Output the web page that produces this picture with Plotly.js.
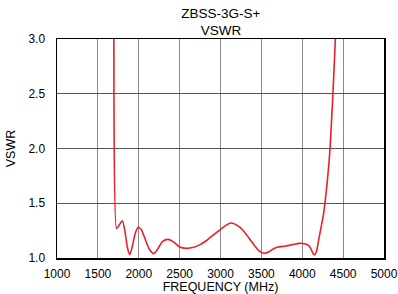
<!DOCTYPE html>
<html><head><meta charset="utf-8">
<script src="https://cdn.plot.ly/plotly-3.0.1.min.js"></script>
<style>html,body{margin:0;padding:0;background:#fff}#c{width:398px;height:294px}</style>
</head><body><div id="c"></div>
<script>
const freq = [1688,1695,1728,1760,1800,1830,1860,1890,1920,1955,1992,2030,2080,2130,2183,2230,2290,2357,2420,2500,2582,2660,2744,2830,2910,3000,3070,3130,3200,3272,3350,3420,3480,3537,3600,3650,3699,3800,3900,3963,4030,4085,4120,4146,4170,4207,4260,4309,4340,4375,4405,4420];
const vswr = [3.4,3.0,1.27,1.30,1.34,1.25,1.10,1.03,1.10,1.22,1.28,1.26,1.17,1.08,1.04,1.08,1.15,1.17,1.15,1.10,1.088,1.095,1.12,1.16,1.21,1.26,1.30,1.32,1.30,1.256,1.18,1.11,1.06,1.043,1.06,1.085,1.10,1.11,1.125,1.134,1.13,1.11,1.06,1.027,1.05,1.19,1.40,1.72,2.0,2.5,3.0,3.3];
const xTicks = [1000,1500,2000,2500,3000,3500,4000,4500,5000];
const yTicks = [1.0,1.5,2.0,2.5,3.0];
const font = "Liberation Sans, Arial, sans-serif";
Plotly.newPlot('c', [{
  x: freq, y: vswr, type: 'scatter', mode: 'lines',
  line: {color: '#e8202a', width: 1.6, shape: 'spline', smoothing: 0.6},
  cliponaxis: true, hoverinfo: 'skip'
}], {
  width: 398, height: 294,
  margin: {l: 57, r: 14, t: 39, b: 36},
  paper_bgcolor: '#fff', plot_bgcolor: '#fff',
  showlegend: false,
  title: {text: 'ZBSS-3G-S+<br>VSWR', font: {family: font, size: 13.5, color: '#000'}, x: 0.555, xanchor: 'center', yref: 'container', y: 0.94, yanchor: 'top'},
  xaxis: {range: [1000, 5000], tickvals: xTicks, ticktext: xTicks.map(String), showgrid: true, gridcolor: '#8a8a8a', gridwidth: 1,
    showline: true, linecolor: '#000', linewidth: 1.5, mirror: true, ticks: '', zeroline: false, ticklabelstandoff: 4,
    tickfont: {family: font, size: 12, color: '#000'},
    title: {text: 'FREQUENCY (MHz)', font: {family: font, size: 12.5, color: '#000'}, standoff: 1}},
  yaxis: {range: [1.0, 3.0], tickvals: yTicks, ticktext: yTicks.map(v => v.toFixed(1)), showgrid: true, gridcolor: '#555', gridwidth: 1,
    showline: true, linecolor: '#000', linewidth: 1.5, mirror: true, ticks: '', zeroline: false, ticklabelstandoff: 8,
    tickfont: {family: font, size: 12, color: '#000'},
    title: {text: 'VSWR', font: {family: font, size: 12.5, color: '#000'}, standoff: 10}}
}, {staticPlot: true, displayModeBar: false});
</script></body></html>
